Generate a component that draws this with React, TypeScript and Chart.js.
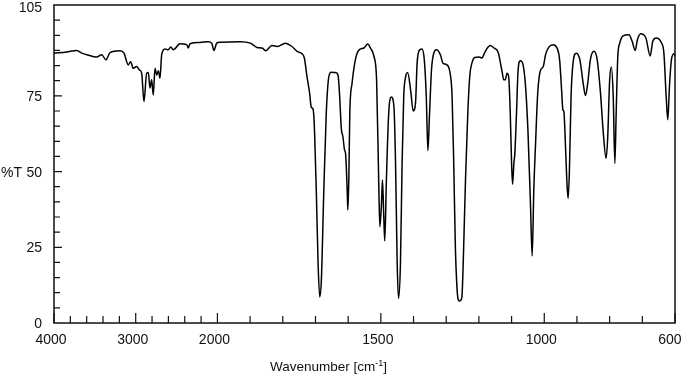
import React, { useEffect, useRef } from 'react';
import { Chart, LinearScale, registerables } from 'chart.js';

Chart.register(...registerables);

// Wavenumber axis: 4000-2000 cm-1 compressed 4x relative to 2000-600 cm-1
const AXIS_BREAK = 2000;
const COMPRESS = 4;
const warp = (w: number) => (w > AXIS_BREAK ? AXIS_BREAK + (w - AXIS_BREAK) / COMPRESS : w);
const unwarp = (u: number) => (u > AXIS_BREAK ? AXIS_BREAK + (u - AXIS_BREAK) * COMPRESS : u);

class IRWaveScale extends LinearScale {
  static id = 'irwave';
  static defaults = LinearScale.defaults;
  getPixelForValue(value: any) {
    if (value === null || value === undefined || isNaN(value)) return NaN;
    const a = warp(this.min), b = warp(this.max);
    return this.getPixelForDecimal((warp(value) - a) / (b - a));
  }
  getValueForPixel(pixel: number) {
    const a = warp(this.min), b = warp(this.max);
    return unwarp(a + this.getDecimalForPixel(pixel) * (b - a));
  }
}
Chart.register(IRWaveScale as any);

const wavenumbers = [
  4000, 3845, 3722, 3661, 3600, 3477, 3416, 3364, 3315, 3192, 3143, 3091, 3062, 3030, 2988, 2956,
  2927, 2899, 2866, 2846, 2825, 2805, 2785, 2764, 2743, 2723, 2703, 2682, 2642, 2601, 2572, 2540,
  2458, 2376, 2356, 2336, 2213, 2111, 2070, 2042, 2009, 1991, 1930, 1899, 1879, 1863, 1853, 1833,
  1817, 1792, 1772, 1756, 1741, 1734, 1726, 1718, 1713, 1707, 1703, 1697, 1692, 1687, 1682, 1675,
  1667, 1659, 1652, 1639, 1631, 1626, 1621, 1616, 1611, 1608, 1603, 1601, 1598, 1595, 1588, 1578,
  1568, 1552, 1540, 1532, 1521, 1513, 1506, 1503, 1498, 1495, 1491, 1488, 1483, 1476, 1468, 1460,
  1455, 1450, 1446, 1440, 1435, 1430, 1425, 1418, 1409, 1401, 1394, 1389, 1381, 1374, 1367, 1361,
  1356, 1351, 1345, 1338, 1330, 1318, 1310, 1299, 1289, 1282, 1277, 1272, 1268, 1264, 1260, 1256,
  1252, 1248, 1241, 1234, 1228, 1220, 1213, 1200, 1190, 1185, 1176, 1165, 1154, 1144, 1139, 1134,
  1129, 1124, 1119, 1114, 1109, 1104, 1100, 1097, 1093, 1090, 1085, 1080, 1073, 1065, 1058, 1050,
  1042, 1037, 1032, 1027, 1020, 1012, 1003, 996, 986, 973, 961, 953, 947, 943, 940, 935,
  930, 927, 923, 918, 912, 902, 891, 881, 874, 867, 859, 848, 838, 828, 820, 811,
  806, 800, 795, 789, 784, 780, 775, 769, 759, 741, 731, 722, 715, 705, 689, 676,
  668, 658, 642, 634, 627, 622, 617, 611, 603, 600,
];

const transmittance = [
  89.1, 89.5, 90.0, 89.1, 88.6, 87.8, 88.6, 86.9, 89.3, 89.9, 89.1, 85.2, 86.3, 84.1, 84.7, 83.6,
  82.5, 73.1, 82.5, 82.7, 77.6, 80.3, 75.3, 84.1, 81.9, 83.3, 80.8, 88.6, 90.5, 90.2, 91.1, 90.2,
  92.2, 91.9, 90.8, 92.2, 92.6, 92.9, 92.4, 90.0, 92.4, 92.7, 92.9, 92.4, 91.0, 90.8, 89.9, 91.6,
  91.3, 92.4, 91.3, 89.7, 88.9, 87.5, 81.4, 75.9, 71.3, 70.4, 63.7, 41.7, 19.7, 8.6, 14.1, 41.7,
  69.2, 81.4, 82.8, 82.7, 81.9, 74.8, 64.3, 61.5, 57.1, 56.0, 43.9, 37.3, 47.2, 69.2, 79.2, 86.9,
  90.0, 90.8, 92.1, 90.8, 88.0, 80.3, 43.9, 31.8, 39.5, 47.2, 35.1, 27.1, 47.2, 69.2, 74.6, 71.5,
  52.7, 19.7, 8.1, 19.7, 52.7, 74.8, 80.8, 82.7, 77.0, 70.0, 72.5, 85.8, 90.2, 90.5, 86.9, 74.8,
  56.9, 69.2, 83.6, 89.1, 90.2, 88.6, 85.8, 85.3, 83.0, 74.8, 52.7, 25.1, 13.5, 8.0, 7.3, 7.5,
  8.6, 19.7, 47.2, 69.2, 81.4, 86.3, 87.7, 87.8, 87.5, 88.6, 90.5, 91.6, 90.8, 90.0, 88.6, 85.8,
  83.0, 80.3, 80.3, 82.5, 81.4, 69.2, 52.7, 45.8, 52.7, 56.0, 69.2, 83.6, 86.6, 85.3, 79.2, 63.7,
  38.4, 22.1, 44.0, 58.2, 76.0, 83.3, 84.7, 88.6, 91.1, 91.9, 90.8, 86.9, 77.0, 70.4, 69.8, 58.2,
  45.0, 41.1, 50.5, 74.8, 85.8, 89.1, 86.9, 79.2, 75.1, 79.2, 86.9, 89.7, 86.9, 76.0, 63.7, 54.4,
  61.0, 80.0, 84.5, 74.8, 52.7, 69.2, 88.0, 92.4, 94.8, 95.2, 93.0, 90.0, 93.5, 95.5, 94.1, 88.2,
  93.0, 94.1, 92.6, 89.1, 74.8, 67.1, 78.1, 86.9, 88.9, 88.0,
];

const xTickLabels = [4000, 3000, 2000, 1500, 1000, 600];
const xMinorTicks = [
  3800, 3600, 3400, 3200, 2800, 2600, 2400, 2200, 1900, 1800, 1700, 1600,
  1400, 1300, 1200, 1100, 900, 800, 700,
];
const yTickLabels = [0, 25, 50, 75, 105];
const yMinorTicks = [5, 10, 15, 20, 30, 35, 40, 45, 55, 60, 65, 70, 80, 85, 90, 95, 100];
const yMajorTicks = [25, 50, 75];

const FONT = '"Liberation Sans", Arial, sans-serif';

const axesPlugin = {
  id: 'irAxes',
  afterDatasetsDraw(chart: any) {
    const { ctx, chartArea: a, scales, width } = chart;
    const xs = scales.x;
    const ys = scales.y;
    ctx.save();
    ctx.strokeStyle = '#111';
    ctx.fillStyle = '#111';

    // frame
    ctx.lineWidth = 1.5;
    ctx.strokeRect(a.left, a.top, a.right - a.left, a.bottom - a.top);

    // x ticks (inward)
    ctx.lineWidth = 1.2;
    ctx.beginPath();
    xTickLabels.forEach((v) => {
      const px = xs.getPixelForValue(v);
      ctx.moveTo(px, a.bottom);
      ctx.lineTo(px, a.bottom - 10);
    });
    xMinorTicks.forEach((v) => {
      const px = xs.getPixelForValue(v);
      ctx.moveTo(px, a.bottom);
      ctx.lineTo(px, a.bottom - 7);
    });
    // y ticks (inward)
    yMajorTicks.forEach((v) => {
      const py = ys.getPixelForValue(v);
      ctx.moveTo(a.left, py);
      ctx.lineTo(a.left + 8, py);
    });
    yMinorTicks.forEach((v) => {
      const py = ys.getPixelForValue(v);
      ctx.moveTo(a.left, py);
      ctx.lineTo(a.left + 6, py);
    });
    ctx.stroke();

    // x tick labels
    ctx.font = `14px ${FONT}`;
    ctx.textBaseline = 'alphabetic';
    ctx.textAlign = 'center';
    xTickLabels.forEach((v) => {
      const txt = String(v);
      const w = ctx.measureText(txt).width;
      let cx = xs.getPixelForValue(v) - 3;
      cx = Math.min(cx, width - 1.5 - w / 2);
      ctx.fillText(txt, cx, a.bottom + 21);
    });

    // y tick labels
    ctx.textAlign = 'right';
    yTickLabels.forEach((v) => {
      const py = ys.getPixelForValue(v);
      const base = Math.max(py + 5, a.top + 7);
      ctx.fillText(String(v), a.left - 12, base);
    });

    // y title next to the 50 label
    ctx.textAlign = 'left';
    ctx.fillText('%T', 1, ys.getPixelForValue(50) + 5);

    // x title with superscript
    const mainFont = `13.5px ${FONT}`;
    const supFont = `9px ${FONT}`;
    const p1 = 'Wavenumber [cm';
    const sup = '-1';
    const p2 = ']';
    ctx.font = mainFont;
    const w1 = ctx.measureText(p1).width;
    const w3 = ctx.measureText(p2).width;
    ctx.font = supFont;
    const w2 = ctx.measureText(sup).width;
    const total = w1 + w2 + w3;
    const startX = 328.5 - total / 2;
    const baseY = a.bottom + 48;
    ctx.font = mainFont;
    ctx.fillText(p1, startX, baseY);
    ctx.font = supFont;
    ctx.fillText(sup, startX + w1, baseY - 5);
    ctx.font = mainFont;
    ctx.fillText(p2, startX + w1 + w2, baseY);

    ctx.restore();
  },
};

export default function App() {
  const canvasRef = useRef<HTMLCanvasElement | null>(null);

  useEffect(() => {
    document.body.style.margin = '0';
    const canvas = canvasRef.current;
    if (!canvas) return;
    const points = wavenumbers.map((w, i) => ({ x: w, y: transmittance[i] }));
    const chart = new Chart(canvas, {
      type: 'line',
      data: {
        datasets: [
          {
            data: points,
            borderColor: '#000',
            borderWidth: 1.5,
            pointRadius: 0,
            fill: false,
            cubicInterpolationMode: 'monotone',
          },
        ],
      },
      options: {
        animation: false,
        responsive: false,
        maintainAspectRatio: false,
        devicePixelRatio: 1,
        layout: { padding: { left: 54, right: 8, top: 5, bottom: 52 } },
        plugins: { legend: { display: false }, tooltip: { enabled: false } },
        scales: {
          x: { type: 'irwave', min: 600, max: 4000, reverse: true, display: false },
          y: { type: 'linear', min: 0, max: 105, display: false },
        },
      } as any,
      plugins: [axesPlugin],
    });
    return () => chart.destroy();
  }, []);

  return (
    <div style={{ width: 683, height: 375, background: '#fff' }}>
      <canvas ref={canvasRef} width={683} height={375} style={{ display: 'block' }} />
    </div>
  );
}
